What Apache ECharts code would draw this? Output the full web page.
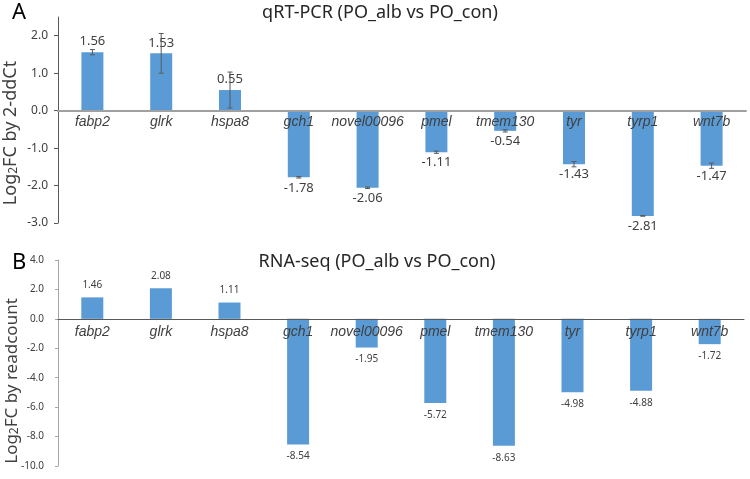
<!DOCTYPE html>
<html style="height: 100%">

<head>
  <meta charset="UTF-8" />
  <title>qRT-PCR vs RNA-seq</title>
  <script src="https://cdn.jsdelivr.net/npm/echarts@6/dist/echarts.min.js"></script>
</head>

<body style="height: 100%; margin: 0; background: #fff">
  <div id="main" style="width: 750px; height: 479px"></div>
  <script>
    const genes = ['fabp2', 'glrk', 'hspa8', 'gch1', 'novel00096', 'pmel', 'tmem130', 'tyr', 'tyrp1', 'wnt7b'];
    const qpcrValues = [1.56, 1.53, 0.55, -1.78, -2.06, -1.11, -0.54, -1.43, -2.81, -1.47];
    const qpcrErrors = [0.07, 0.53, 0.48, 0.02, 0.02, 0.03, 0.03, 0.07, 0.01, 0.07];
    const rnaseqValues = [1.46, 2.08, 1.11, -8.54, -1.95, -5.72, -8.63, -4.98, -4.88, -1.72];
    const qpcrTicks = [-3, -2, -1, 0, 1, 2];

    const BLUE = '#5B9BD5';
    const TEXT = '#404040';
    const GRID_H = 206;

    const rangeA = [-3, 2.5];
    const rangeB = [-10, 4];

    // the category axis sits on y = 0 together with its labels
    function zeroOffset(range) {
      return -GRID_H * (0 - range[0]) / (range[1] - range[0]);
    }

    const chart = echarts.init(document.getElementById('main'));

    // label goes above positive bars, below negative ones
    function barData(values, dist) {
      return values.map(function (v) {
        return {
          value: v,
          label: { position: v < 0 ? 'bottom' : 'top', distance: dist },
        };
      });
    }

    function errorBars(params, api) {
      const i = api.value(0);
      const v = api.value(1);
      const e = api.value(2);
      const hi = api.coord([i, v + e]);
      const lo = api.coord([i, v - e]);
      const style = { stroke: '#595959', lineWidth: 1 };
      return {
        type: 'group',
        children: [
          { type: 'line', shape: { x1: hi[0], y1: hi[1], x2: lo[0], y2: lo[1] }, style: style },
          { type: 'line', shape: { x1: hi[0] - 2.5, y1: hi[1], x2: hi[0] + 2.5, y2: hi[1] }, style: style },
          { type: 'line', shape: { x1: lo[0] - 2.5, y1: lo[1], x2: lo[0] + 2.5, y2: lo[1] }, style: style },
        ],
      };
    }

    const catLabel = {
      fontFamily: 'Liberation Sans',
      fontStyle: 'italic',
      fontSize: 14,
      color: TEXT,
    };

    const titleStyle = { fontSize: 18, fontWeight: 'normal', color: '#262626', fontFamily: 'Noto Sans' };

    const option = {
      backgroundColor: '#fff',
      animation: false,
      textStyle: { fontFamily: 'Noto Sans' },
      title: [
        { text: 'qRT-PCR (PO_alb vs PO_con)', left: 375, top: -1, textAlign: 'center', textStyle: titleStyle },
        { text: 'RNA-seq (PO_alb vs PO_con)', left: 372, top: 248, textAlign: 'center', textStyle: titleStyle },
        { text: 'A', left: 7, top: -3,
          textStyle: { fontSize: 22, fontWeight: 'normal', color: '#000', fontFamily: 'Noto Sans' } },
        { text: 'B', left: 7, top: 247,
          textStyle: { fontSize: 22, fontWeight: 'normal', color: '#000', fontFamily: 'Noto Sans' } },
      ],
      graphic: [
        { type: 'text', x: 2, y: 133, rotation: Math.PI / 2, origin: [0, 0],
          style: { text: '{a|Log}{s|2}{a|FC by 2-ddCt}', align: 'center', verticalAlign: 'top',
            rich: { a: { fontSize: 18, fill: TEXT, fontFamily: 'Noto Sans' },
                    s: { fontSize: 12, fill: TEXT, fontFamily: 'Noto Sans', padding: [6, 0, 0, 0] } } } },
        { type: 'text', x: 4, y: 381, rotation: Math.PI / 2, origin: [0, 0],
          style: { text: '{a|Log}{s|2}{a|FC by readcount}', align: 'center', verticalAlign: 'top',
            rich: { a: { fontSize: 17, fill: TEXT, fontFamily: 'Noto Sans' },
                    s: { fontSize: 12, fill: TEXT, fontFamily: 'Noto Sans', padding: [5, 0, 0, 0] } } } },
      ],
      grid: [
        { left: 58, right: 4, top: 17, height: GRID_H },
        { left: 58, right: 6, top: 260, height: GRID_H },
      ],
      xAxis: [
        {
          type: 'category', gridIndex: 0, data: genes, z: 5,
          offset: zeroOffset(rangeA),
          axisLine: { onZero: false, lineStyle: { color: '#A0A0A0', width: 2 } },
          axisTick: { show: false },
          axisLabel: Object.assign({ margin: 4, interval: 0 }, catLabel),
        },
        {
          type: 'category', gridIndex: 1, data: genes, z: 5,
          offset: zeroOffset(rangeB),
          axisLine: { onZero: false, lineStyle: { color: '#595959', width: 1 } },
          axisTick: { show: false },
          axisLabel: Object.assign({ margin: 6, interval: 0 }, catLabel),
        },
      ],
      yAxis: [
        {
          type: 'value', gridIndex: 0, min: rangeA[0], max: rangeA[1], interval: 1,
          splitLine: { show: false },
          axisLine: { show: true, lineStyle: { color: '#595959' } },
          axisTick: { show: true, length: 4, customValues: qpcrTicks, lineStyle: { color: '#595959' } },
          axisLabel: { fontSize: 12, color: TEXT, margin: 10, customValues: qpcrTicks,
            formatter: function (v) { return v.toFixed(1); } },
        },
        {
          type: 'value', gridIndex: 1, min: rangeB[0], max: rangeB[1], interval: 2,
          splitLine: { show: false },
          axisLine: { show: true, lineStyle: { color: '#A6A6A6' } },
          axisTick: { show: true, length: 3, lineStyle: { color: '#A6A6A6' } },
          axisLabel: { fontSize: 10, color: TEXT, margin: 14,
            formatter: function (v) { return v.toFixed(1); } },
        },
      ],
      series: [
        {
          type: 'bar', xAxisIndex: 0, yAxisIndex: 0, barWidth: 22,
          itemStyle: { color: BLUE },
          label: { show: true, fontSize: 13, color: TEXT, formatter: function (p) { return p.value.toFixed(2); } },
          data: barData(qpcrValues, 4),
        },
        {
          type: 'custom', xAxisIndex: 0, yAxisIndex: 0, z: 4,
          renderItem: errorBars,
          encode: { x: 0, y: 1 },
          data: qpcrValues.map(function (v, i) { return [i, v, qpcrErrors[i]]; }),
        },
        {
          type: 'bar', xAxisIndex: 1, yAxisIndex: 1, barWidth: 22,
          itemStyle: { color: BLUE },
          label: { show: true, fontSize: 10, color: TEXT, formatter: function (p) { return p.value.toFixed(2); } },
          data: barData(rnaseqValues, 7),
        },
      ],
    };

    chart.setOption(option);
  </script>
</body>

</html>
